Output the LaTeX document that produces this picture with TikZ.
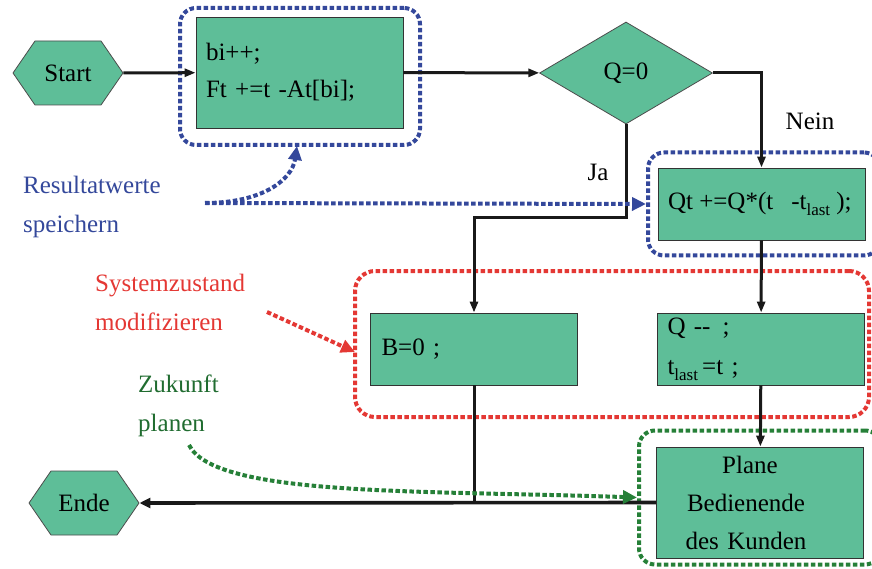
\documentclass[tikz,border=0pt]{standalone}
\usepackage{fontspec}
\setmainfont{Liberation Serif}
\newfontfamily\tms{Liberation Serif}
\usetikzlibrary{shapes.geometric,shapes.symbols,arrows.meta}
\definecolor{boxgreen}{RGB}{94,190,152}
\definecolor{annblue}{RGB}{52,72,155}
\definecolor{annred}{RGB}{228,56,52}
\definecolor{anngreen}{RGB}{38,128,56}
\definecolor{txtgreen}{RGB}{32,108,48}
\newcommand{\bigtxt}{\tms\fontsize{25}{38}\selectfont}
\newcommand{\lst}{\raisebox{-6pt}{\fontsize{17}{17}\selectfont last}}
\begin{document}
\begin{tikzpicture}[x=1pt,y=-1pt,font=\bigtxt,
  proc/.style={rectangle,draw=black!80,line width=0.9pt,fill=boxgreen,inner sep=0pt,inner xsep=10pt,minimum width=207pt},
  hexa/.style={signal,signal to=west and east,signal pointer angle=111,fill=boxgreen,draw=black!70,line width=0.8pt,minimum width=110pt,minimum height=64pt,inner sep=0pt},
  deci/.style={diamond,aspect=1.7,fill=boxgreen,draw=black!70,line width=0.8pt,minimum width=173pt,minimum height=102pt,inner sep=0pt},
  flow/.style={line width=3pt,draw=black!90,-{Triangle[length=11pt,width=8pt]}},
  plain/.style={line width=3pt,draw=black!90},
  dotframe/.style={rectangle,draw=#1,line width=4pt,dash pattern=on 4.5pt off 2.5pt,rounded corners=16pt,fill=none,inner sep=0pt},
  dotarrow/.style={draw=#1,line width=4pt,dash pattern=on 4.5pt off 2.5pt,-{Triangle[length=14pt,width=13pt]}},
  annot/.style={align=left,inner sep=0pt,anchor=west,font=\tms\fontsize{25}{39}\selectfont}
]
\useasboundingbox (0,0) rectangle (872,569);

% frames
\node[dotframe=annblue,minimum width=240pt,minimum height=137pt] (f1) at (300,76.5) {};
\node[dotframe=annblue,minimum width=232pt,minimum height=103pt] (f2) at (764,204) {};
\node[dotframe=annred,minimum width=514pt,minimum height=146pt,rounded corners=20pt] (f3) at (612,344) {};
\node[dotframe=anngreen,minimum width=242pt,minimum height=134pt] (f4) at (760,497.5) {};

% nodes
\node[hexa] (start) at (68,73) {Start};
\node[proc,minimum height=111pt,text width=187pt,align=left] (box1) at (299.5,72.5) {bi++;\\[-1pt]Ft +=t -At[bi];};
\node[deci] (dec) at (626,73) {Q=0};
\node[proc,minimum height=72pt,align=left] (qt) at (761.5,204) {\makebox[187pt][l]{Qt +=Q*(t\hspace{18pt}-t\lst\ );}};
\node[proc,minimum height=72pt,text width=185pt,inner xsep=11pt,align=left] (b0) at (474,349) {B=0 ;};
\node[proc,minimum height=72pt,text width=187pt,align=left] (qm) at (761,349) {Q -{}-\hspace{12pt};\\[2pt]t\lst\,=t ;};
\node[proc,minimum height=111pt,text width=187pt,align=center] (plan) at (760,502.5) {Plane\hspace*{20pt}\mbox{}\\Bedienende\hspace*{28pt}\mbox{}\\des Kunden\hspace*{28pt}\mbox{}};
\node[hexa] (ende) at (84,503) {Ende};

% labels
\node[inner sep=0pt] (nein) at (810,121) {Nein};
\node[inner sep=0pt] (ja) at (598,172) {Ja};
\node[annot,text=annblue] (lblue) at (23,207) {Resultatwerte\\speichern};
\node[annot,text=annred] (lred) at (95,302) {Systemzustand\\modifizieren};
\node[annot,text=txtgreen] (lgreen) at (138,406) {Zukunft\\planen};

% connectors
\coordinate (jaturn) at (626,218);
\draw[flow] (start) -- (box1);
\draw[flow] (box1) -- (dec);
\draw[flow] (dec.east) -| (qt.north);
\draw[flow] (dec.south) -- (jaturn) -| (b0.north);
\draw[flow] (qt) -- (qm);
\draw[flow] (qm) -- (plan);
\coordinate (join) at (b0.south |- plan.west);
\draw[plain] (b0.south) -- (join);
\draw[line width=3.6pt,draw=black!90,-{Triangle[length=11pt,width=10pt]}] (plan.west) -- (ende.east);

% annotation arrows
\coordinate (bluestart) at (205,203);
\coordinate (bluetip) at (297,146);
\coordinate (redstart) at (267,312);
\coordinate (redtip) at (355,352);
\coordinate (greenstart) at (189,445);
\draw[dotarrow=annblue] (bluestart) -- (f2.west);
\draw[dotarrow=annblue] (bluestart) .. controls (262,203) and (292,180) .. (bluetip);
\draw[dotarrow=annred] (redstart) -- (redtip);
\draw[dotarrow=anngreen] (greenstart) .. controls (215,497) and (420,490) .. (f4.west);
\end{tikzpicture}
\end{document}
